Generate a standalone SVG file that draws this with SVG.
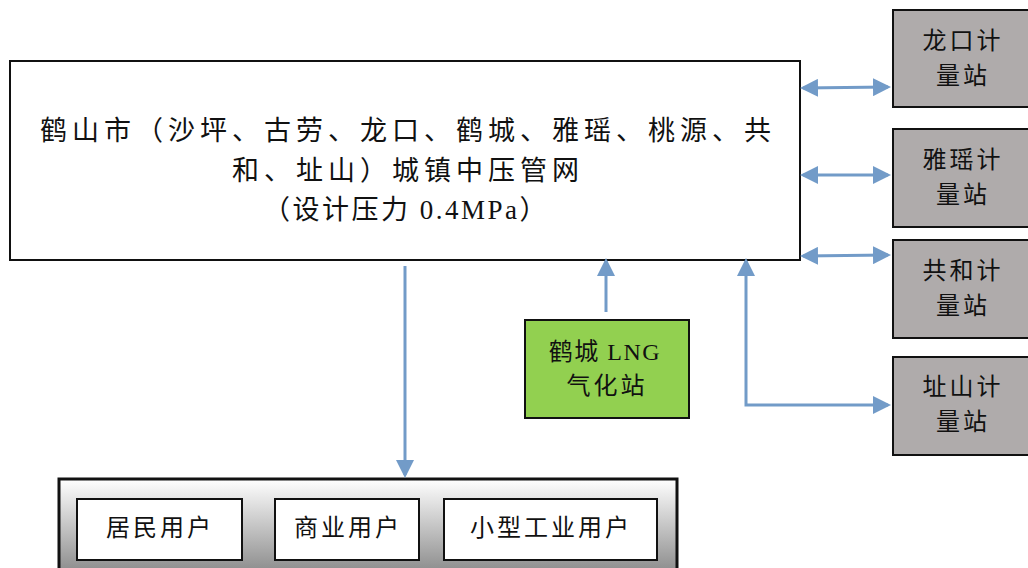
<svg xmlns="http://www.w3.org/2000/svg" width="1028" height="568" viewBox="0 0 1028 568">
<style>
text{font-family:"Liberation Serif","Noto Sans CJK SC",serif;fill:#111;text-anchor:middle;dominant-baseline:central}
.m{font-size:27px;letter-spacing:5px}
.s{font-size:24px;letter-spacing:3px}
.st{fill:#afabab;stroke:#111;stroke-width:2}
.c{fill:none;stroke:#729bc8;stroke-width:3}
</style>
<defs>
<marker id="a" markerWidth="6" markerHeight="6" refX="5" refY="3" orient="auto-start-reverse" markerUnits="strokeWidth"><path d="M0,0L6,3L0,6z" fill="#729bc8"/></marker>
<linearGradient id="g" x1="0" y1="0" x2="0" y2="1"><stop offset="0" stop-color="#ffffff"/><stop offset="1" stop-color="#8a8a8a"/></linearGradient>
</defs>
<g id="main">
<rect x="10" y="61" width="790" height="199" fill="#fff" stroke="#111" stroke-width="2"/>
<text class="m" x="408" y="131">鹤山市（沙坪、古劳、龙口、鹤城、雅瑶、桃源、共</text>
<text class="m" x="408" y="171">和、址山）城镇中压管网</text>
<text class="m" x="406" y="210" style="letter-spacing:2.5px">（设计压力 0.4MPa）</text>
</g>
<g id="longkou"><rect class="st" x="893" y="10" width="140" height="97"/><text class="s" x="963" y="41">龙口计</text><text class="s" x="963" y="76">量站</text></g>
<g id="yayao"><rect class="st" x="893" y="129" width="140" height="98"/><text class="s" x="963" y="160">雅瑶计</text><text class="s" x="963" y="195">量站</text></g>
<g id="gonghe"><rect class="st" x="893" y="240" width="140" height="98"/><text class="s" x="963" y="271">共和计</text><text class="s" x="963" y="306">量站</text></g>
<g id="zhishan"><rect class="st" x="893" y="357" width="140" height="98"/><text class="s" x="963" y="387">址山计</text><text class="s" x="963" y="422">量站</text></g>
<g id="lng"><rect x="525" y="320" width="164" height="98" fill="#92d050" stroke="#111" stroke-width="2"/><text class="s" x="605" y="352" style="letter-spacing:1.5px">鹤城 LNG</text><text class="s" x="607" y="386">气化站</text></g>
<g id="users">
<rect x="59" y="479" width="618" height="95" fill="url(#g)" stroke="#111" stroke-width="3"/>
<g id="u1"><rect x="77" y="499" width="165" height="61" fill="#fff" stroke="#111" stroke-width="2"/><text class="s" x="160" y="528">居民用户</text></g>
<g id="u2"><rect x="275" y="499" width="144" height="61" fill="#fff" stroke="#111" stroke-width="2"/><text class="s" x="348" y="528">商业用户</text></g>
<g id="u3"><rect x="444" y="499" width="213" height="61" fill="#fff" stroke="#111" stroke-width="2"/><text class="s" x="551" y="528">小型工业用户</text></g>
</g>
<g id="connectors">
<path class="c" d="M803,88L888,87" marker-start="url(#a)" marker-end="url(#a)"/>
<path class="c" d="M803,175L888,175" marker-start="url(#a)" marker-end="url(#a)"/>
<path class="c" d="M803,256L888,255" marker-start="url(#a)" marker-end="url(#a)"/>
<path class="c" d="M405,266L405,475" marker-end="url(#a)"/>
<path class="c" d="M606,312L606,261" marker-end="url(#a)"/>
<path class="c" d="M888,405L746,405L746,261" marker-start="url(#a)" marker-end="url(#a)"/>
</g>
</svg>
